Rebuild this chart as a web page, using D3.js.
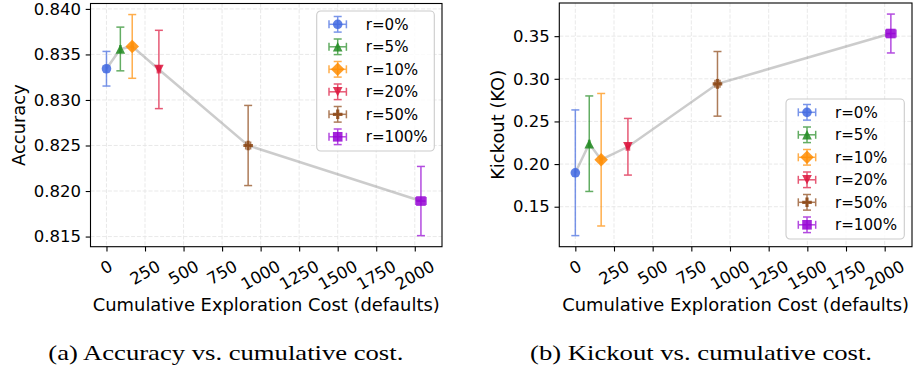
<!DOCTYPE html>
<html>
<head>
<meta charset="utf-8">
<script src="https://cdn.jsdelivr.net/npm/d3@7"></script>
<style>
  body { margin: 0; background: #fff; }
  svg { display: block; font-family: "DejaVu Sans", sans-serif; }
</style>
</head>
<body>
<div id="chart"></div>
<script>
// values
const labels = ["r=0%", "r=5%", "r=10%", "r=20%", "r=50%", "r=100%"];
const colors = ["royalblue", "forestgreen", "darkorange", "crimson", "saddlebrown", "darkviolet"];
const markers = ["circle", "triangleUp", "diamond", "triangleDown", "plus", "square"];
const cost = [0, 90, 167, 340, 919, 2040];
const costErr = [0, 4, 6, 10, 16, 33];
const accMean = [0.83343, 0.8356, 0.83588, 0.83335, 0.8250, 0.8189];
const accErr = [0.0019, 0.0024, 0.0035, 0.0043, 0.0044, 0.0038];
const koMean = [0.1898, 0.2239, 0.2051, 0.2203, 0.2941, 0.3531];
const koErr = [0.0737, 0.0560, 0.0777, 0.0332, 0.0379, 0.0228];
const xTicks = [0, 250, 500, 750, 1000, 1250, 1500, 1750, 2000];
const accTicks = [0.815, 0.820, 0.825, 0.830, 0.835, 0.840];
const koTicks = [0.15, 0.20, 0.25, 0.30, 0.35];

const W = 913, H = 368;
const svg = d3.select("#chart").append("svg").attr("width", W).attr("height", H);

// marker shapes (matplotlib-like), s = marker size in px
const shapes = {
	circle: s => ({ draw(c) { c.arc(0, 0, s / 2, 0, 2 * Math.PI); } }),
	triangleUp: s => ({ draw(c) { c.moveTo(0, -s / 2); c.lineTo(s / 2, s / 2); c.lineTo(-s / 2, s / 2); c.closePath(); } }),
	triangleDown: s => ({ draw(c) { c.moveTo(0, s / 2); c.lineTo(s / 2, -s / 2); c.lineTo(-s / 2, -s / 2); c.closePath(); } }),
	diamond: s => ({ draw(c) { var r = s / Math.SQRT2; c.moveTo(0, -r); c.lineTo(r, 0); c.lineTo(0, r); c.lineTo(-r, 0); c.closePath(); } }),
	square: s => ({ draw(c) { c.rect(-s / 2, -s / 2, s, s); } }),
	plus: s => ({ draw(c) {
		var a = s / 2, b = s / 6;
		c.moveTo(-b, -a); c.lineTo(b, -a); c.lineTo(b, -b); c.lineTo(a, -b); c.lineTo(a, b); c.lineTo(b, b);
		c.lineTo(b, a); c.lineTo(-b, a); c.lineTo(-b, b); c.lineTo(-a, b); c.lineTo(-a, -b); c.lineTo(-b, -b); c.closePath();
	} })
};
const MS = 9.6, CAP = 4, ERR_OP = 0.7, MK_OP = 0.85;

function padded(lo, hi) {
	var m = (hi - lo) * 0.05;
	return [lo - m, hi + m];
}

function errorbar(g, cx, cy, x0, x1, y0, y1, color, marker) {
	var e = g.append("g").attr("stroke", color).attr("stroke-width", 1.5).attr("opacity", ERR_OP);
	e.append("line").attr("x1", cx).attr("x2", cx).attr("y1", y0).attr("y2", y1);
	e.append("line").attr("x1", x0).attr("x2", x1).attr("y1", cy).attr("y2", cy);
	[y0, y1].forEach(y => e.append("line").attr("x1", cx - CAP).attr("x2", cx + CAP).attr("y1", y).attr("y2", y));
	[x0, x1].forEach(x => e.append("line").attr("x1", x).attr("x2", x).attr("y1", cy - CAP).attr("y2", cy + CAP));
	g.append("path")
		.attr("d", d3.symbol(shapes[marker](MS))())
		.attr("transform", "translate(" + cx + "," + cy + ")")
		.attr("fill", color)
		.attr("opacity", MK_OP);
}

function panel(box, mean, err, yTicks, fmt, yLabel, leg, caption) {
	var x = d3.scaleLinear()
		.domain(padded(d3.min(cost, (d, i) => d - costErr[i]), d3.max(cost, (d, i) => d + costErr[i])))
		.range([box.x0, box.x1]);
	var y = d3.scaleLinear()
		.domain(padded(d3.min(mean, (d, i) => d - err[i]), d3.max(mean, (d, i) => d + err[i])))
		.range([box.y1, box.y0]);

	var g = svg.append("g");

	// grid
	var grid = g.append("g").attr("stroke", "#b0b0b0").attr("stroke-width", 0.9)
		.attr("stroke-dasharray", "4,1.8").attr("opacity", 0.3);
	xTicks.forEach(t => grid.append("line").attr("x1", x(t)).attr("x2", x(t)).attr("y1", box.y0).attr("y2", box.y1));
	yTicks.forEach(t => grid.append("line").attr("y1", y(t)).attr("y2", y(t)).attr("x1", box.x0).attr("x2", box.x1));

	// axes
	var yAxis = g.append("g").attr("transform", "translate(" + box.x0 + ",0)")
		.call(d3.axisLeft(y).tickValues(yTicks).tickFormat(d3.format(fmt)).tickSize(4.8).tickPadding(4.8));
	var xAxis = g.append("g").attr("transform", "translate(0," + box.y1 + ")")
		.call(d3.axisBottom(x).tickValues(xTicks).tickSize(4.8).tickFormat(""));
	[yAxis, xAxis].forEach(a => {
		a.select(".domain").remove();
		a.selectAll("line").attr("stroke", "#000").attr("stroke-width", 1.1);
	});
	yAxis.selectAll("text").attr("font-size", 16.5).attr("fill", "#000").attr("font-family", "DejaVu Sans");

	// rotated x tick labels (centred box under the tick)
	xTicks.forEach(t => {
		var tg = g.append("g");
		var txt = tg.append("text").text(t).attr("font-size", 16.5).attr("text-anchor", "middle").attr("dy", "0.35em");
		var w = txt.node().getComputedTextLength();
		var h = 16.5 * 1.164;
		var bh = w * 0.5 + h * Math.cos(Math.PI / 6);
		tg.attr("transform", "translate(" + x(t) + "," + (box.y1 + 9.6 + bh / 2) + ") rotate(-30)");
	});

	g.append("rect").attr("x", box.x0).attr("y", box.y0).attr("width", box.x1 - box.x0).attr("height", box.y1 - box.y0)
		.attr("fill", "none").attr("stroke", "#000").attr("stroke-width", 1.1);

	// connecting line
	g.append("path")
		.datum(cost.map((c, i) => [c, mean[i]]))
		.attr("d", d3.line().x(d => x(d[0])).y(d => y(d[1])))
		.attr("fill", "none").attr("stroke", "gray").attr("stroke-width", 2.5).attr("opacity", 0.4);

	// error bars + markers
	cost.forEach((c, i) => {
		errorbar(g, x(c), y(mean[i]), x(c - costErr[i]), x(c + costErr[i]), y(mean[i] + err[i]), y(mean[i] - err[i]), colors[i], markers[i]);
	});

	// labels
	g.append("text").text("Cumulative Exploration Cost (defaults)")
		.attr("x", (box.x0 + box.x1) / 2).attr("y", 305).attr("dy", "0.35em")
		.attr("text-anchor", "middle").attr("font-size", 17.9);
	g.append("text").text(yLabel)
		.attr("transform", "translate(" + box.labelX + "," + (box.y0 + box.y1) / 2 + ") rotate(-90)")
		.attr("dy", "0.35em").attr("text-anchor", "middle").attr("font-size", 17.9);

	// legend
	var lg = g.append("g").attr("transform", "translate(" + leg.x + "," + leg.y + ")");
	lg.append("rect").attr("width", leg.w).attr("height", leg.h).attr("rx", 4)
		.attr("fill", "#fff").attr("fill-opacity", 0.8).attr("stroke", "#ccc").attr("stroke-width", 1.1);
	labels.forEach((l, i) => {
		var ly = 13.3 + i * 22.5;
		errorbar(lg, 21, ly, 21 - 8.7, 21 + 8.7, ly - 7.8, ly + 7.8, colors[i], markers[i]);
		lg.append("text").text(l).attr("x", 49).attr("y", ly).attr("dy", "0.35em").attr("font-size", 15.1);
	});

	// caption
	svg.append("text").text(caption.text)
		.attr("x", caption.x).attr("y", 360)
		.attr("font-family", "'Liberation Serif', serif").attr("font-size", 21.5)
		.attr("textLength", caption.w).attr("lengthAdjust", "spacingAndGlyphs");
}

panel({ x0: 90.5, x1: 442, y0: 3.5, y1: 246.7, labelX: 18.3 }, accMean, accErr, accTicks, ".3f", "Accuracy",
	{ x: 316.7, y: 11, w: 117.6, h: 140 }, { text: "(a) Accuracy vs. cumulative cost.", x: 48.3, w: 355 });
panel({ x0: 559.3, x1: 912, y0: 3, y1: 246.7, labelX: 497.3 }, koMean, koErr, koTicks, ".2f", "Kickout (KO)",
	{ x: 786, y: 99, w: 118.3, h: 140 }, { text: "(b) Kickout vs. cumulative cost.", x: 530, w: 342 });
</script>
</body>
</html>
